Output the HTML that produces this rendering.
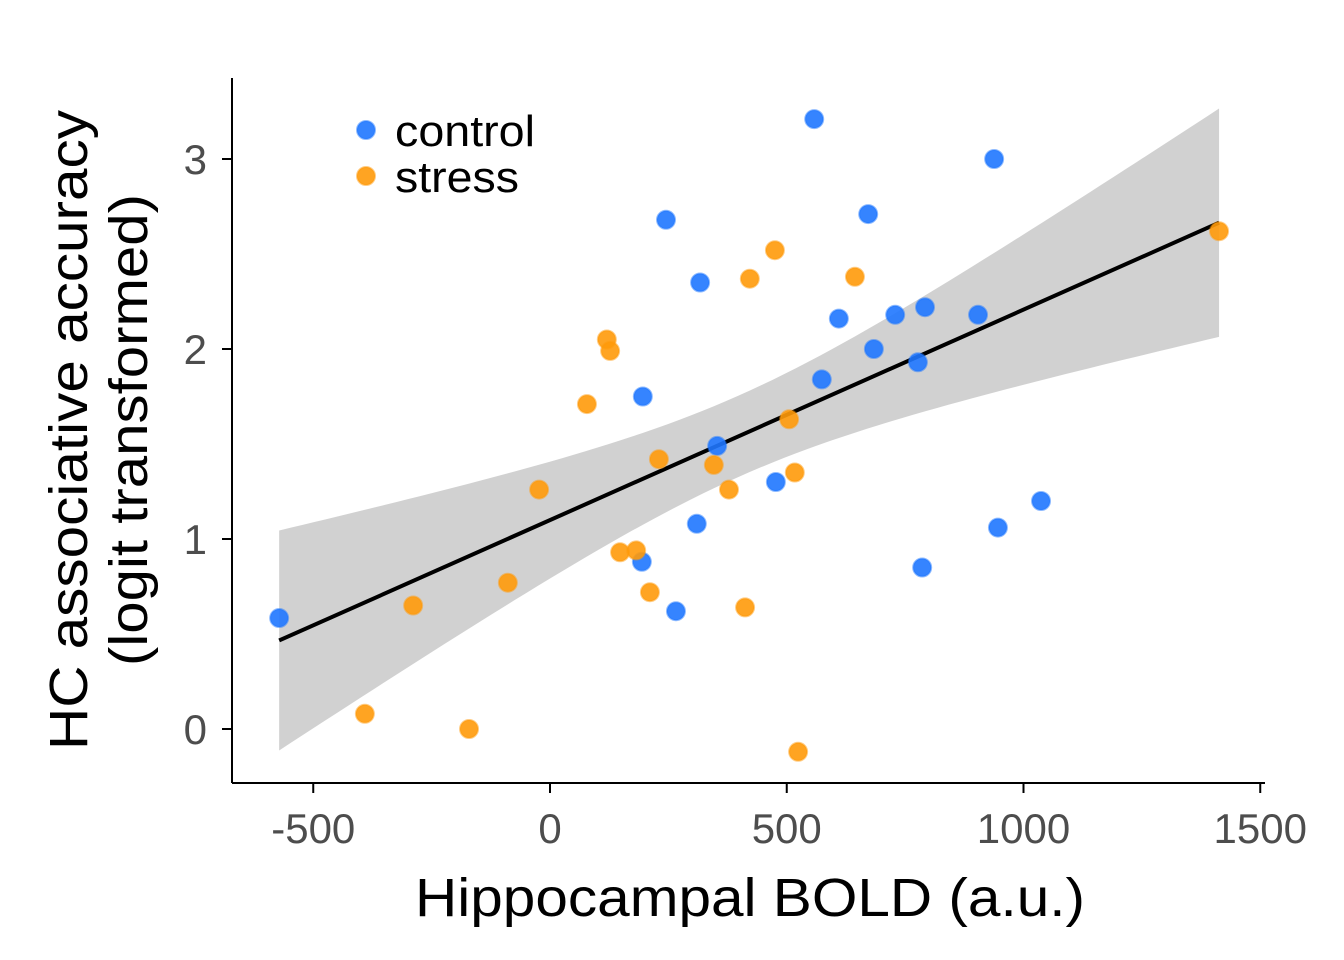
<!DOCTYPE html>
<html><head><meta charset="utf-8"><style>
body{margin:0;background:#fff;}
svg{display:block;font-family:"Liberation Sans",sans-serif;}
</style></head><body>
<svg id="chart" width="1344" height="960">
<g id="band"></g>
<g id="line"></g>
<g id="pts"></g>
<line x1="232" y1="78" x2="232" y2="783" stroke="#000" stroke-width="2"/>
<line x1="232" y1="783" x2="1265" y2="783" stroke="#000" stroke-width="2"/>
<g id="xt"></g>
<g id="yt"></g>
<text x="750" y="916" font-size="54" text-anchor="middle" textLength="670" lengthAdjust="spacingAndGlyphs">Hippocampal BOLD (a.u.)</text>
<g transform="translate(430,0) rotate(-90 0 0)">
</g>
<text transform="translate(87,430) rotate(-90)" x="0" y="0" font-size="54" text-anchor="middle" textLength="640" lengthAdjust="spacingAndGlyphs">HC associative accuracy</text>
<text transform="translate(147,430) rotate(-90)" x="0" y="0" font-size="54" text-anchor="middle" textLength="472" lengthAdjust="spacingAndGlyphs">(logit transformed)</text>
<g>
<g>
<circle cx="366" cy="130" r="9" fill="#1f77ff" fill-opacity="0.9" stroke="#1f77ff" stroke-opacity="0.5" stroke-width="2"/>
<text x="395" y="146" font-size="44" textLength="140" lengthAdjust="spacingAndGlyphs">control</text></g>
<g>
<circle cx="366" cy="176" r="9" fill="#ff9a0a" fill-opacity="0.9" stroke="#ff9a0a" stroke-opacity="0.5" stroke-width="2"/>
<text x="395" y="192" font-size="44" textLength="124" lengthAdjust="spacingAndGlyphs">stress</text></g>
</g>
</svg>
<script>
const controlX=[-572,558,938,245,672,317,610,729,792,904,684,777,574,196,353,477,310,194,266,786,946,1037];
const controlY=[0.584,3.21,3.0,2.68,2.71,2.35,2.16,2.18,2.22,2.18,2.0,1.93,1.84,1.75,1.49,1.30,1.08,0.88,0.62,0.85,1.06,1.20];
const stressX=[1413,475,422,644,120,127,78,505,230,346,378,517,-23,148,182,211,412,-89,-289,-391,-171,524];
const stressY=[2.62,2.52,2.37,2.38,2.05,1.99,1.71,1.63,1.42,1.39,1.26,1.35,1.26,0.93,0.94,0.72,0.64,0.77,0.65,0.08,0.0,-0.12];
const xTicks=[-500,0,500,1000,1500];
const yTicks=[0,1,2,3];
const NS="http://www.w3.org/2000/svg";
const sx=v=>550+v*0.4735, sy=v=>729-v*190;
function mk(t,a,p){const e=document.createElementNS(NS,t);for(const k in a)e.setAttribute(k,a[k]);p.appendChild(e);return e;}
const xt=document.getElementById('xt'),yt=document.getElementById('yt');
xTicks.forEach(v=>{mk('line',{x1:sx(v),x2:sx(v),y1:783,y2:793,stroke:'#000','stroke-width':2},xt);
 const t=mk('text',{x:sx(v),y:843,'font-size':42,'text-anchor':'middle',fill:'#4d4d4d'},xt);t.textContent=v;
 
 });
yTicks.forEach(v=>{mk('line',{x1:222,x2:232,y1:sy(v),y2:sy(v),stroke:'#000','stroke-width':2},yt);
 const t=mk('text',{x:207,y:sy(v)+15,'font-size':42,'text-anchor':'end',fill:'#4d4d4d'},yt);t.textContent=v;
 
 });
const X=controlX.concat(stressX),Y=controlY.concat(stressY),n=X.length;
const mx=X.reduce((a,b)=>a+b)/n,my=Y.reduce((a,b)=>a+b)/n;
let sxx=0,sxy=0;X.forEach((x,i)=>{sxx+=(x-mx)**2;sxy+=(x-mx)*(Y[i]-my);});
const b=sxy/sxx,a=my-b*mx;let sse=0;X.forEach((x,i)=>{sse+=(Y[i]-a-b*x)**2;});
const s=Math.sqrt(sse/(n-2)),tq=2.018;
const x0=Math.min(...X),x1=Math.max(...X);const up=[],lo=[];
for(let i=0;i<=80;i++){const x=x0+(x1-x0)*i/80,f=a+b*x,se=s*Math.sqrt(1/n+(x-mx)**2/sxx);
 up.push(sx(x)+','+sy(f+tq*se));lo.unshift(sx(x)+','+sy(f-tq*se));}
mk('polygon',{points:up.concat(lo).join(' '),fill:'#999','fill-opacity':0.45},document.getElementById('band'));
mk('line',{x1:sx(x0),y1:sy(a+b*x0),x2:sx(x1),y2:sy(a+b*x1),stroke:'#000','stroke-width':4},document.getElementById('line'));
const pg=document.getElementById('pts');
function pts(xs,ys,c,name){xs.forEach((x,i)=>{const e=mk('circle',{cx:sx(x),cy:sy(ys[i]),r:9,fill:c,'fill-opacity':0.9,stroke:c,'stroke-opacity':0.5,'stroke-width':2},pg);
 
 });}
pts(controlX,controlY,'#1f77ff','control-point');
pts(stressX,stressY,'#ff9a0a','stress-point');
</script>
</body></html>
